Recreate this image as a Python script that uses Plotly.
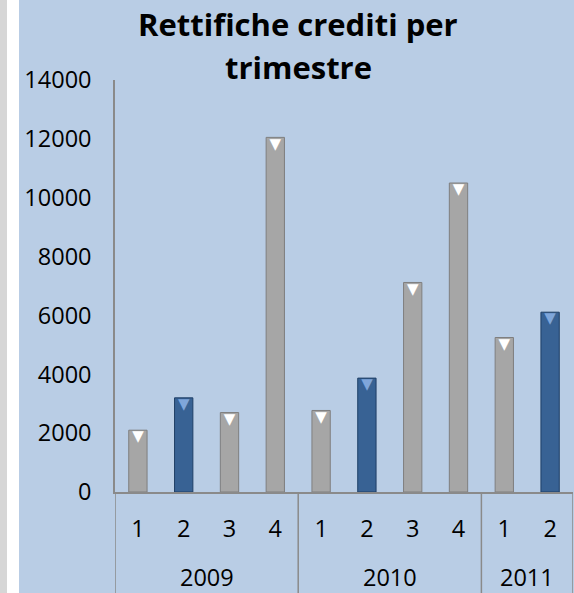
import plotly.graph_objects as go

title_lines = ["Rettifiche crediti per", "trimestre"]
years = ["2009", "2010", "2011"]
quarters = ["1", "2", "3", "4", "1", "2", "3", "4", "1", "2"]
values = [2100, 3200, 2700, 12050, 2770, 3870, 7120, 10500, 5250, 6110]
highlight = [False, True, False, False, False, True, False, False, False, True]
year_sizes = [4, 4, 2]
y_ticks = [0, 2000, 4000, 6000, 8000, 10000, 12000, 14000]

FONT = "Open Sans"
BG = "#B9CDE5"
AXIS = "#8A8A8A"
GRAY = "#A6A6A6"
GRAY_EDGE = "#7F7F7F"
BLUE = "#386294"
BLUE_EDGE = "#1F3F66"

x = list(range(len(values)))
fill = [BLUE if h else GRAY for h in highlight]
edge = [BLUE_EDGE if h else GRAY_EDGE for h in highlight]
tri = ["#7FA6DA" if h else "#FFFFFF" for h in highlight]

W, H = 574, 593
ml, mr, mt, mb = 115, 1, 80, 101
plot_w = W - ml - mr
plot_h = H - mt - mb
bottom = -mb / plot_h
top = 1 + mt / plot_h

fig = go.Figure()
fig.add_trace(go.Bar(
    x=x, y=values, width=0.4,
    marker=dict(color=fill, line=dict(color=edge, width=1)),
    hoverinfo="y", showlegend=False,
))
fig.add_trace(go.Scatter(
    x=x, y=values, mode="text", text=["▼"] * len(values),
    textposition="bottom center",
    textfont=dict(color=tri, size=15, family="DejaVu Sans"),
    hoverinfo="skip", showlegend=False,
))

shapes = []
shapes.append(dict(type="rect", xref="paper", yref="paper",
                   x0=-ml / plot_w, x1=-(ml - 7) / plot_w,
                   y0=bottom, y1=top,
                   fillcolor="#D6D6D6", line=dict(width=0), layer="below"))
shapes.append(dict(type="rect", xref="paper", yref="paper",
                   x0=-(ml - 19) / plot_w, x1=1 + mr / plot_w,
                   y0=bottom, y1=top,
                   fillcolor=BG, line=dict(width=0), layer="below"))
shapes.append(dict(type="line", xref="x", yref="paper", x0=-0.5, x1=-0.5,
                   y0=bottom, y1=0, line=dict(color=AXIS, width=1.5)))
pos = -0.5
for n in year_sizes:
    pos += n
    shapes.append(dict(type="line", xref="x", yref="paper", x0=pos, x1=pos,
                       y0=bottom, y1=0, line=dict(color=AXIS, width=1.5)))

annotations = []
start = -0.5
for yr, n in zip(years, year_sizes):
    annotations.append(dict(x=start + n / 2, y=-85 / plot_h, xref="x", yref="paper",
                            text=yr, showarrow=False, yanchor="middle",
                            font=dict(family=FONT, size=23.5, color="#000000")))
    start += n

title_x = (298 - ml) / plot_w
for line, ypx in zip(title_lines, [24, 67]):
    annotations.append(dict(x=title_x, y=1 + (mt - ypx) / plot_h, xref="paper", yref="paper",
                            text="<b>" + line + "</b>", showarrow=False,
                            xanchor="center", yanchor="middle",
                            font=dict(family=FONT, size=31, color="#000000")))

fig.update_layout(
    width=W, height=H,
    margin=dict(l=ml, r=mr, t=mt, b=mb),
    paper_bgcolor="#FFFFFF", plot_bgcolor=BG,
    xaxis=dict(range=[-0.5, len(values) - 0.5], tickvals=x, ticktext=quarters,
               showgrid=False, zeroline=False, showline=True, linecolor=AXIS, linewidth=1.5,
               ticks="", ticklabelstandoff=15,
               tickfont=dict(family=FONT, size=23.5, color="#000000")),
    yaxis=dict(range=[0, 14000], tickvals=y_ticks, ticktext=[str(v) for v in y_ticks],
               showgrid=False, zeroline=False,
               showline=True, linecolor=AXIS, linewidth=1.5, ticks="",
               ticklabelstandoff=17,
               tickfont=dict(family=FONT, size=23.5, color="#000000")),
    shapes=shapes, annotations=annotations,
)

fig.write_html("out.html", config={"displayModeBar": False}, post_script=(
    "document.body.style.margin='0';document.body.style.padding='0';"
    "document.documentElement.style.overflow='hidden';"))
